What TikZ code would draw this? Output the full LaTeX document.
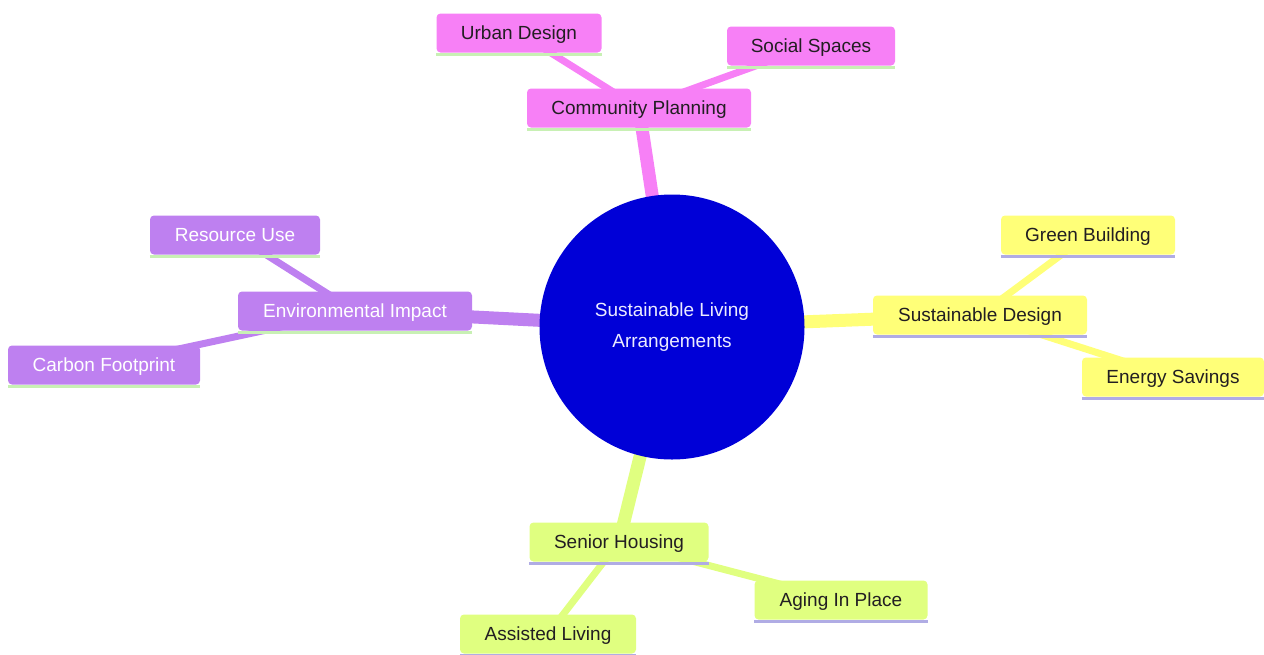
\documentclass[tikz,border=0pt]{standalone}
\usepackage{fontspec}
\setmainfont{Liberation Sans}
\usetikzlibrary{backgrounds}
\definecolor{cpink}{RGB}{247,128,246}
\definecolor{cpurple}{RGB}{190,128,240}
\definecolor{cyellow}{RGB}{255,255,120}
\definecolor{cgreen}{RGB}{224,255,128}
\definecolor{cblue}{RGB}{0,0,215}
\definecolor{ulgreen}{RGB}{200,240,180}
\definecolor{ullav}{RGB}{176,172,228}
\definecolor{txt}{RGB}{34,30,34}
\tikzset{
  box/.style={rectangle, rounded corners=4pt, inner xsep=0pt, inner ysep=0pt,
    text depth=1pt, minimum height=39pt, font=\fontsize{19}{23}\selectfont, text=txt},
  pinkbox/.style={box, fill=cpink},
  purplebox/.style={box, fill=cpurple, text=white},
  yellowbox/.style={box, fill=cyellow},
  greenbox/.style={box, fill=cgreen},
  main/.style={line width=13pt},
  sub/.style={line width=7pt},
  ul/.style={line width=3pt}
}
\begin{document}
\begin{tikzpicture}[x=1pt,y=-1pt]
\useasboundingbox (0,0) rectangle (1264,654);
% root
\node[circle, fill=cblue, minimum size=265pt, inner sep=0pt, text=white!92!blue,
  align=center, font=\fontsize{19}{29}\selectfont] (root) at (672,327)
  {Sustainable Living\\[1pt]\raisebox{-1pt}{Arrangements}};
% level 1 and 2
\node[pinkbox, minimum width=224pt] (cp) at (639,108) {Community Planning};
\node[pinkbox, minimum width=165pt] (ud) at (519,33) {Urban Design};
\node[pinkbox, minimum width=168pt] (ss) at (811,46) {Social Spaces};
\node[purplebox, minimum width=234pt] (ei) at (355,311) {Environmental Impact};
\node[purplebox, minimum width=170pt] (ru) at (235,235) {Resource Use};
\node[purplebox, minimum width=192pt] (cf) at (104,365) {Carbon Footprint};
\node[yellowbox, minimum width=214pt] (sd) at (980,315) {Sustainable Design};
\node[yellowbox, minimum width=174pt] (gb) at (1088,235) {Green Building};
\node[yellowbox, minimum width=182pt] (es) at (1173,377) {Energy Savings};
\node[greenbox, minimum width=179pt] (sh) at (619,542) {Senior Housing};
\node[greenbox, minimum width=176pt] (al) at (548,634) {Assisted Living};
\node[greenbox, minimum width=173pt] (ap) at (841,600) {Aging In Place};
% underlines
\foreach \n in {cp,ud,ss,ei,ru,cf}
  \draw[ul, ulgreen] ([yshift=-1.5pt]\n.south west) -- ([yshift=-1.5pt]\n.south east);
\foreach \n in {sd,gb,es,sh,al,ap}
  \draw[ul, ullav] ([yshift=-1.5pt]\n.south west) -- ([yshift=-1.5pt]\n.south east);
% edges behind
\begin{scope}[on background layer]
\draw[main, cpink] (root.center) -- (cp.center);
\draw[sub, cpink] (cp.center) -- (ud.center);
\draw[sub, cpink] (cp.center) -- (ss.center);
\draw[main, cpurple] (root.center) -- (ei.center);
\draw[sub, cpurple] (ei.center) -- (ru.center);
\draw[sub, cpurple] (ei.center) -- (cf.center);
\draw[main, cyellow] (root.center) -- (sd.center);
\draw[sub, cyellow] (sd.center) -- (gb.center);
\draw[sub, cyellow] (sd.center) -- (es.center);
\draw[main, cgreen] (root.center) -- (sh.center);
\draw[sub, cgreen] (sh.center) -- (al.center);
\draw[sub, cgreen] (sh.center) -- (ap.center);
\end{scope}
\end{tikzpicture}
\end{document}
